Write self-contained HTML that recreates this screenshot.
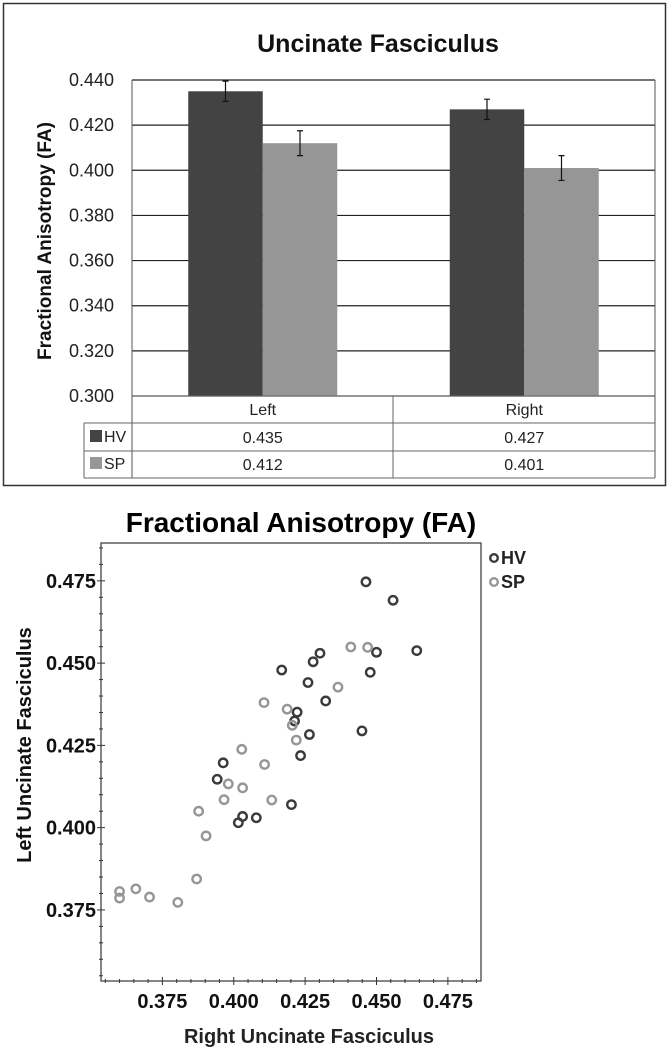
<!DOCTYPE html>
<html><head><meta charset="utf-8"><style>
html,body{margin:0;padding:0;background:#fff;}
svg{display:block;font-family:"Liberation Sans",sans-serif;}
</style></head><body>
<svg id="root" width="670" height="1049" viewBox="0 0 670 1049" xmlns="http://www.w3.org/2000/svg">
<g id="bar"></g>
<g id="sc"></g>
</svg>
<script>
const NS="http://www.w3.org/2000/svg";
// ---- bar chart data ----
const barCategories=["Left","Right"];
const barSeries=["HV","SP"];
const hvValues=[0.435,0.427];
const spValues=[0.412,0.401];
const hvErrors=[0.0045,0.0045];
const spErrors=[0.0055,0.0055];
const barTicks=[0.300,0.320,0.340,0.360,0.380,0.400,0.420,0.440];
// ---- scatter data ----
const hvX=[0.4463,0.4558,0.4641,0.4500,0.4478,0.4302,0.4278,0.4168,0.4260,0.4322,0.4222,0.4213,0.4265,0.4449,0.4234,0.3963,0.3942,0.4202,0.4031,0.4079,0.4016];
const hvY=[0.4747,0.4691,0.4538,0.4533,0.4472,0.4530,0.4504,0.4479,0.4441,0.4385,0.4351,0.4324,0.4283,0.4294,0.4219,0.4197,0.4147,0.4070,0.4034,0.4030,0.4015];
const spX=[0.4410,0.4469,0.4365,0.4106,0.4187,0.4205,0.4219,0.4028,0.4108,0.3981,0.4031,0.3966,0.4133,0.3877,0.3903,0.3870,0.3600,0.3600,0.3657,0.3705,0.3804];
const spY=[0.4549,0.4548,0.4427,0.4380,0.4360,0.4311,0.4266,0.4238,0.4192,0.4133,0.4121,0.4085,0.4084,0.4050,0.3975,0.3844,0.3806,0.3786,0.3814,0.3789,0.3773];
const scTicks=[0.375,0.400,0.425,0.450,0.475];

function mk(parent,tag,attrs,text){const e=document.createElementNS(NS,tag);for(const k in attrs)e.setAttribute(k,attrs[k]);if(text!==undefined)e.textContent=text;parent.appendChild(e);return e;}

// ===== Bar chart =====
const B=document.getElementById('bar');
const pL=132,pR=655,pT=80,pB=396,yMin=0.300,yMax=0.440;
const by=v=>pB-(v-yMin)/(yMax-yMin)*(pB-pT);
let e;
e=mk(B,'rect',{x:3.5,y:3.5,width:662,height:482,fill:'none',stroke:'#333','stroke-width':1.5});


e=mk(B,'text',{x:378,y:52,'text-anchor':'middle','font-size':25,'font-weight':'bold',fill:'#111'},'Uncinate Fasciculus');


e=mk(B,'text',{x:0,y:0,transform:'translate(51,241) rotate(-90)','text-anchor':'middle','font-size':19,'font-weight':'bold',fill:'#111'},'Fractional Anisotropy (FA)');


barTicks.forEach(t=>{
  const y=by(t);
  e=mk(B,'line',{x1:pL,x2:pR,y1:y,y2:y,stroke:'#222','stroke-width':1.2});
  
  
  e=mk(B,'text',{x:114,y:y+6,'text-anchor':'end','font-size':18,fill:'#222'},t.toFixed(3));
  
  
});
mk(B,'line',{x1:pL,x2:pL,y1:pT,y2:478,stroke:'#555','stroke-width':1});
mk(B,'line',{x1:pR,x2:pR,y1:pT,y2:478,stroke:'#555','stroke-width':1});
const groupW=(pR-pL)/barCategories.length, barW=74.5;
const colors=['#434343','#969696'];
barCategories.forEach((c,i)=>{
  const cx=pL+groupW*(i+0.5);
  [[hvValues,hvErrors],[spValues,spErrors]].forEach((s,j)=>{
    const v=s[0][i],err=s[1][i];
    const x=cx-barW+j*barW;
    e=mk(B,'rect',{x:x,y:by(v),width:barW,height:pB-by(v),fill:colors[j]});
    
    
    const ex=x+barW/2;
    e=mk(B,'path',{d:`M${ex},${by(v+err)}V${by(v-err)}M${ex-3},${by(v+err)}H${ex+3}M${ex-3},${by(v-err)}H${ex+3}`,stroke:'#111','stroke-width':1.2,fill:'none'});
    
    
  });
});
// table
[[pL,396],[84,423],[84,451],[84,478]].forEach(r=>mk(B,'line',{x1:r[0],x2:pR,y1:r[1],y2:r[1],stroke:'#666','stroke-width':1}));
mk(B,'line',{x1:84,x2:84,y1:423,y2:478,stroke:'#666','stroke-width':1});
mk(B,'line',{x1:393,x2:393,y1:396,y2:478,stroke:'#666','stroke-width':1});
barCategories.forEach((c,i)=>{
  const cx=pL+groupW*(i+0.5);
  e=mk(B,'text',{x:cx,y:415,'text-anchor':'middle','font-size':16,fill:'#222'},c);
  
  
  e=mk(B,'text',{x:cx,y:443,'text-anchor':'middle','font-size':16,fill:'#222'},hvValues[i].toFixed(3));
  
  
  e=mk(B,'text',{x:cx,y:470,'text-anchor':'middle','font-size':16,fill:'#222'},spValues[i].toFixed(3));
  
  
});
barSeries.forEach((s,j)=>{
  const y=j?464:437;
  mk(B,'rect',{x:90,y:y-7,width:12,height:12,fill:colors[j]});
  e=mk(B,'text',{x:104,y:y+5,'font-size':16,fill:'#222'},s);
  
  
});

// ===== Scatter =====
const S=document.getElementById('sc');
const sL=101,sR=481,sT=543,sB=981;
const xMin=0.3535,xMax=0.4866,syMin=0.3534,syMax=0.4865;
const sx=v=>sL+(v-xMin)/(xMax-xMin)*(sR-sL);
const sy=v=>sB-(v-syMin)/(syMax-syMin)*(sB-sT);
e=mk(S,'text',{x:301,y:532,'text-anchor':'middle','font-size':28,'font-weight':'bold',fill:'#000'},'Fractional Anisotropy (FA)');


e=mk(S,'rect',{x:sL,y:sT,width:sR-sL,height:sB-sT,fill:'none',stroke:'#444','stroke-width':1.3});


for(let v=0.355;v<0.486;v+=0.005){
  const major=Math.abs(((v-0.375)/0.025)-Math.round((v-0.375)/0.025))<0.01;
  const y=sy(v),x=sx(v);
  mk(S,'line',{x1:sL-(major?4:2),x2:sL+(major?4:2),y1:y,y2:y,stroke:'#333','stroke-width':1});
  mk(S,'line',{x1:x,x2:x,y1:sB-(major?4:2),y2:sB+(major?4:2),stroke:'#333','stroke-width':1});
}
scTicks.forEach(t=>{
  e=mk(S,'text',{x:96,y:sy(t)+7,'text-anchor':'end','font-size':20,'font-weight':'bold',fill:'#111'},t.toFixed(3));
  
  
  e=mk(S,'text',{x:sx(t),y:1008,'text-anchor':'middle','font-size':20,'font-weight':'bold',fill:'#111'},t.toFixed(3));
  
  
});
e=mk(S,'text',{x:0,y:0,transform:'translate(31,745) rotate(-90)','text-anchor':'middle','font-size':20,'font-weight':'bold',fill:'#111'},'Left Uncinate Fasciculus');


e=mk(S,'text',{x:309,y:1043,'text-anchor':'middle','font-size':20,'font-weight':'bold',fill:'#222'},'Right Uncinate Fasciculus');


const scCols=['#3a3a3a','#969696'];
[[hvX,hvY],[spX,spY]].forEach((s,j)=>{
  s[0].forEach((xv,i)=>{
    e=mk(S,'circle',{cx:sx(xv),cy:sy(s[1][i]),r:4.2,fill:'none',stroke:scCols[j],'stroke-width':2.4});
    
    
  });
});
['HV','SP'].forEach((s,j)=>{
  const y=558+j*24;
  e=mk(S,'circle',{cx:494,cy:y,r:3.8,fill:'none',stroke:scCols[j],'stroke-width':2.4});
  
  
  e=mk(S,'text',{x:501,y:y+6,'font-size':18,'font-weight':'bold',fill:'#222'},s);
  
  
});
</script>
</body></html>
